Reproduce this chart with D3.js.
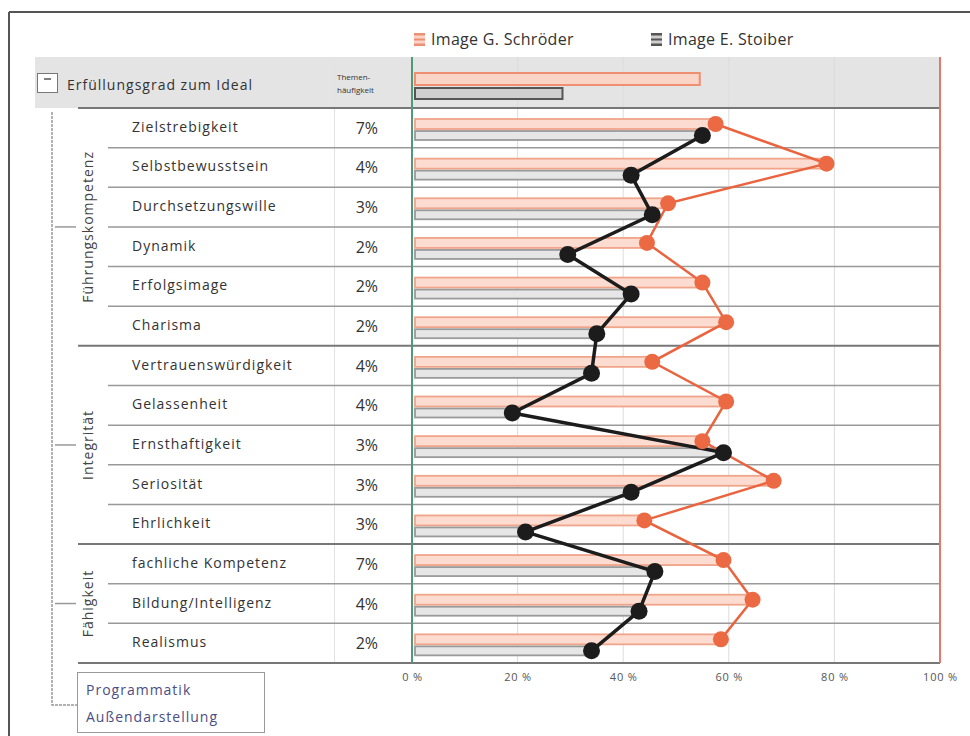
<!DOCTYPE html>
<html>
<head>
<meta charset="utf-8">
<script src="https://cdn.jsdelivr.net/npm/d3@7"></script>
<style>
  body { margin: 0; background: #fff; }
  text { font-family: "Open Sans", "Noto Sans", sans-serif; }
</style>
</head>
<body>
<div id="chart"></div>
<script>
// Data
const categories = ['Zielstrebigkeit', 'Selbstbewusstsein', 'Durchsetzungswille', 'Dynamik',
  'Erfolgsimage', 'Charisma', 'Vertrauenswürdigkeit', 'Gelassenheit', 'Ernsthaftigkeit',
  'Seriosität', 'Ehrlichkeit', 'fachliche Kompetenz', 'Bildung/Intelligenz', 'Realismus']
const frequency = ['7%', '4%', '3%', '2%', '2%', '2%', '4%', '4%', '3%', '3%', '3%', '7%', '4%', '2%']
const schroeder = [57.5, 78.5, 48.5, 44.5, 55, 59.5, 45.5, 59.5, 55, 68.5, 44, 59, 64.5, 58.5]
const stoiber = [55, 41.5, 45.5, 29.5, 41.5, 35, 34, 19, 59, 41.5, 21.5, 46, 43, 34]
const totalSchroeder = 54.5
const totalStoiber = 28.5
const groups = ['Führungskompetenz', 'Integrität', 'Fähigkeit']
const groupSizes = [6, 5, 3]
const xTicks = [0, 20, 40, 60, 80, 100]

const W = 970, H = 736
const x0 = 412, x1 = 940
const rowTop = 108, rowBottom = 663
const LS = '1px'   // letter spacing to match the wide scan font

const svg = d3.select('#chart').append('svg')
  .attr('width', W).attr('height', H)

const x = d3.scaleLinear().domain([0, 100]).range([x0, x1])
const y = d3.scaleBand().domain(categories).range([rowTop, rowBottom])
const rh = y.bandwidth()

// Frame
svg.append('line').attr('x1', 9).attr('x2', W).attr('y1', 12).attr('y2', 12)
  .attr('stroke', '#555').attr('stroke-width', 2)
svg.append('line').attr('x1', 9).attr('x2', 9).attr('y1', 12).attr('y2', H)
  .attr('stroke', '#555').attr('stroke-width', 2)

// Header band
svg.append('rect').attr('x', 35).attr('y', 57).attr('width', x1 - 35).attr('height', rowTop - 57)
  .attr('fill', '#e4e4e4')
svg.append('rect').attr('x', 37.5).attr('y', 73.5).attr('width', 20).attr('height', 19)
  .attr('fill', '#fff').attr('stroke', '#777')
svg.append('line').attr('x1', 44).attr('x2', 51).attr('y1', 79).attr('y2', 79)
  .attr('stroke', '#555').attr('stroke-width', 1.5)
svg.append('text').attr('x', 67).attr('y', 90).attr('font-size', 14).attr('fill', '#333')
  .attr('letter-spacing', LS)
  .text('Erfüllungsgrad zum Ideal')
svg.append('text').attr('x', 337).attr('y', 80).attr('font-size', 8).attr('fill', '#333').text('Themen-')
svg.append('text').attr('x', 337).attr('y', 93).attr('font-size', 8).attr('fill', '#333').text('häufigkeit')
svg.append('line').attr('x1', 334.5).attr('x2', 334.5).attr('y1', 57).attr('y2', rowBottom)
  .attr('stroke', '#e2e2e2').attr('stroke-width', 1)

// Grid
svg.selectAll('.grid').data(xTicks.slice(1, -1)).enter().append('line')
  .attr('x1', d => x(d)).attr('x2', d => x(d))
  .attr('y1', 57).attr('y2', rowBottom)
  .attr('stroke', '#dcdcdc').attr('stroke-width', 1)

// Header bars (overall)
svg.append('rect').attr('x', x(0) + 3).attr('y', 73).attr('width', x(totalSchroeder) - x(0) - 3).attr('height', 12)
  .attr('fill', '#fad4c6').attr('stroke', '#ee8f72').attr('stroke-width', 2)
svg.append('rect').attr('x', x(0) + 3).attr('y', 88).attr('width', x(totalStoiber) - x(0) - 3).attr('height', 11)
  .attr('fill', '#cfcfcf').attr('stroke', '#555').attr('stroke-width', 2)

// Row bars
const rows = svg.selectAll('.row').data(categories).enter().append('g')
  .attr('transform', d => `translate(0, ${y(d)})`)

rows.append('rect')
  .attr('x', x(0) + 3).attr('y', 11)
  .attr('width', (d, i) => x(schroeder[i]) - x(0) - 3).attr('height', 10)
  .attr('fill', '#fcdcd0').attr('stroke', '#f0a48a').attr('stroke-width', 1.8)
rows.append('rect')
  .attr('x', x(0) + 3).attr('y', 23)
  .attr('width', (d, i) => x(stoiber[i]) - x(0) - 3).attr('height', 9)
  .attr('fill', '#e6e6e6').attr('stroke', '#9a9a9a').attr('stroke-width', 1.8)

// Row labels
rows.append('text').attr('x', 132).attr('y', rh / 2 + 4).attr('font-size', 14).attr('fill', '#333')
  .attr('letter-spacing', LS)
  .text(d => d)
rows.append('text').attr('x', 378).attr('y', rh / 2 + 6).attr('font-size', 16).attr('fill', '#333')
  .attr('text-anchor', 'end')
  .text((d, i) => frequency[i])

// Row separators
const groupEnds = d3.cumsum(groupSizes)
svg.selectAll('.sep').data(categories).enter().append('line')
  .attr('x1', (d, i) => groupEnds.includes(i + 1) ? 78 : 108)
  .attr('x2', x1)
  .attr('y1', d => y(d) + rh).attr('y2', d => y(d) + rh)
  .attr('stroke', (d, i) => groupEnds.includes(i + 1) ? '#777' : '#999')
  .attr('stroke-width', (d, i) => groupEnds.includes(i + 1) ? 2 : 1.5)
svg.append('line').attr('x1', 78).attr('x2', x1).attr('y1', rowTop).attr('y2', rowTop)
  .attr('stroke', '#777').attr('stroke-width', 2)

// Zero / hundred lines
svg.append('line').attr('x1', x(0)).attr('x2', x(0)).attr('y1', 57).attr('y2', rowBottom)
  .attr('stroke', '#4f9a7c').attr('stroke-width', 2)
svg.append('line').attr('x1', x(100)).attr('x2', x(100)).attr('y1', 57).attr('y2', rowBottom)
  .attr('stroke', '#e5786a').attr('stroke-width', 2)

// Tree on the left
svg.append('path')
  .attr('d', `M52,112 V705 H78`)
  .attr('fill', 'none').attr('stroke', '#999').attr('stroke-width', 1.5)
  .attr('stroke-dasharray', '3,1')
let start = 0
groups.forEach((g, gi) => {
  const a = y(categories[start])
  const b = y(categories[start + groupSizes[gi] - 1]) + rh
  const mid = (a + b) / 2
  svg.append('line').attr('x1', 55).attr('x2', 76).attr('y1', mid).attr('y2', mid)
    .attr('stroke', '#999').attr('stroke-width', 1.5)
  svg.append('text').attr('transform', `translate(93, ${mid}) rotate(-90)`)
    .attr('text-anchor', 'middle').attr('font-size', 14).attr('fill', '#444')
    .attr('letter-spacing', LS)
    .text(g)
  start += groupSizes[gi]
})

// Collapsed groups box
svg.append('rect').attr('x', 77.5).attr('y', 672.5).attr('width', 187).attr('height', 60)
  .attr('fill', '#fff').attr('stroke', '#999')
svg.append('text').attr('x', 86).attr('y', 695).attr('font-size', 14).attr('fill', '#4a4e86')
  .attr('letter-spacing', LS).text('Programmatik')
svg.append('text').attr('x', 86).attr('y', 722).attr('font-size', 14).attr('fill', '#4a4e86')
  .attr('letter-spacing', LS).text('Außendarstellung')

// Lines and markers
const redY = (d, i) => y(categories[i]) + 16
const blkY = (d, i) => y(categories[i]) + 27.5

const lineR = d3.line().x(d => x(d)).y(redY)
const lineB = d3.line().x(d => x(d)).y(blkY)

svg.append('path').datum(schroeder).attr('d', lineR)
  .attr('fill', 'none').attr('stroke', '#e9643f').attr('stroke-width', 2.5)
svg.append('path').datum(stoiber).attr('d', lineB)
  .attr('fill', 'none').attr('stroke', '#1c1c1c').attr('stroke-width', 3.5)

svg.selectAll('.dotR').data(schroeder).enter().append('circle')
  .attr('cx', d => x(d)).attr('cy', redY).attr('r', 8)
  .attr('fill', '#ec6a43')
svg.selectAll('.dotB').data(stoiber).enter().append('circle')
  .attr('cx', d => x(d)).attr('cy', blkY).attr('r', 8.5)
  .attr('fill', '#1c1c1c')

// Axis
const xAxis = d3.axisBottom(x).tickValues(xTicks).tickSize(0).tickPadding(10)
  .tickFormat(d => d + ' %')
const ax = svg.append('g').attr('transform', `translate(0, ${rowBottom})`).call(xAxis)
ax.select('.domain').remove()
ax.selectAll('text').attr('font-size', 11).attr('fill', '#555')
  .attr('letter-spacing', '0.8px')
  .attr('font-family', '"Open Sans", sans-serif')

// Legend
const legend = [
  {label: 'Image G. Schröder', fill: '#fad4c6', stroke: '#ee8f72', x: 414},
  {label: 'Image E. Stoiber', fill: '#cfcfcf', stroke: '#555', x: 651}
]
const lg = svg.selectAll('.legend').data(legend).enter().append('g')
  .attr('transform', d => `translate(${d.x}, 33)`)
lg.append('rect').attr('width', 11).attr('height', 13).attr('fill', d => d.fill)
lg.append('rect').attr('y', 0).attr('width', 11).attr('height', 2.5).attr('fill', d => d.stroke)
lg.append('rect').attr('y', 5.5).attr('width', 11).attr('height', 2).attr('fill', d => d.stroke)
lg.append('rect').attr('y', 10.5).attr('width', 11).attr('height', 2.5).attr('fill', d => d.stroke)
lg.append('text').attr('x', 17).attr('y', 12).attr('font-size', 16).attr('fill', '#333')
  .attr('letter-spacing', '0.3px')
  .text(d => d.label)
</script>
</body>
</html>
